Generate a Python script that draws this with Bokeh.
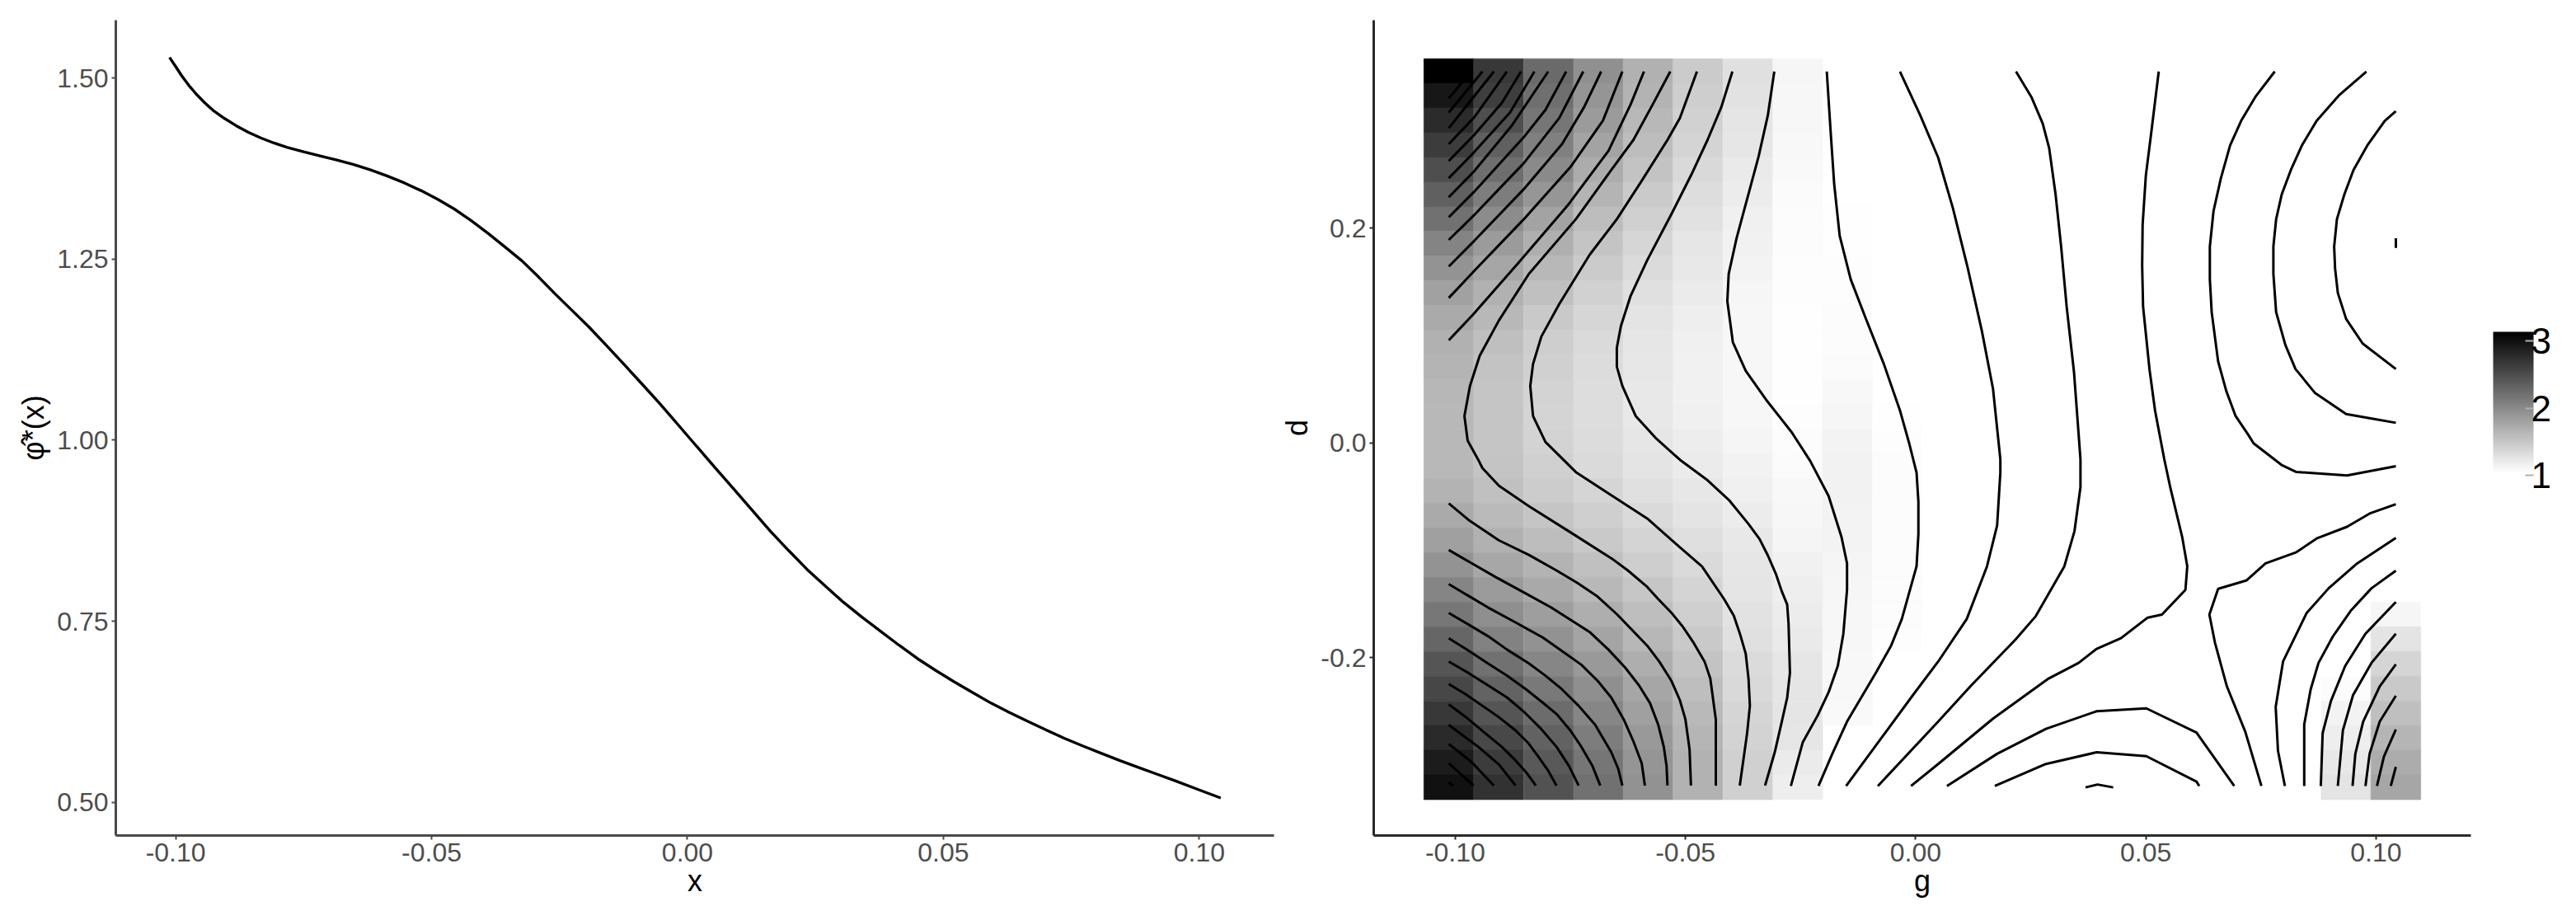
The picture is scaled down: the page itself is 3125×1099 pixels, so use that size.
from bokeh.plotting import figure
from bokeh.layouts import row
from bokeh.embed import file_html
from bokeh.resources import INLINE
from bokeh.models import (ColumnDataSource, FixedTicker, PrintfTickFormatter,
                          LinearColorMapper, ColorBar, Range1d)
from bokeh.transform import transform

# ---------- left panel ----------
curve_x = [-.1012,-.1000,-.0989,-.0975,-.0960,-.0944,-.0927,-.0905,-.0882,-.0858,-.0833,-.0808,-.0783,-.0750,-.0718,
           -.0685,-.0652,-.0619,-.0586,-.0553,-.0521,-.0488,-.0455,-.0422,-.0389,-.0356,-.0323,-.0290,-.0258,-.0225,
           -.0192,-.0159,-.0126,-.0090,-.0054,-.0018,.0018,.0054,.0090,.0126,.0162,.0198,.0234,.0270,.0305,.0341,.0377,
           .0413,.0449,.0485,.0521,.0557,.0593,.0629,.0665,.0701,.0737,.0773,.0809,.0845,.0881,.0917,.0953,.0998,.1042]
curve_y = [1.5286,1.5160,1.5040,1.4905,1.4781,1.4664,1.4555,1.4445,1.4344,1.4252,1.4172,1.4104,1.4045,1.3982,1.3926,
           1.3868,1.3807,1.3733,1.3647,1.3552,1.3448,1.3326,1.3190,1.3028,1.2852,1.2665,1.2474,1.2247,1.2016,1.1788,
           1.1559,1.1312,1.1062,1.0785,1.0505,1.0210,.9914,.9620,.9328,.9035,.8742,.8473,.8213,.7980,.7760,.7555,.7363,
           .7170,.6985,.6820,.6664,.6515,.6369,.6240,.6116,.5997,.5881,.5775,.5674,.5575,.5481,.5388,.5296,.5175,.5058]
left_x_ticks = [-0.10,-0.05,0.00,0.05,0.10]
left_y_ticks = [0.50,0.75,1.00,1.25,1.50]
right_x_ticks = [-0.10,-0.05,0.00,0.05,0.10]
right_y_ticks = [-0.2,0.0,0.2]
bar_ticks = [1,2,3]

# ---------- right panel : tile grid ----------
g_centres = [-.1014,-.0906,-.0797,-.0689,-.0581,-.0473,-.0364,-.0256,-.0148,-.0040,.0069,.0177,.0285,.0393,.0502,
             .0610,.0718,.0826,.0935,.1043]
d_centres = [.3462,.3232,.3002,.2772,.2542,.2312,.2082,.1852,.1622,.1392,.1162,.0932,.0702,.0472,.0242,.0012,
             -.0218,-.0448,-.0678,-.0908,-.1138,-.1368,-.1598,-.1828,-.2058,-.2288,-.2518,-.2748,-.2978,-.3208]
N = None
heat_00 = [3.14,2.94,2.78,2.64,2.49,2.34,2.20,2.05,1.92,1.81,1.73,1.68,1.65,1.63,1.62,1.62,1.62,1.66,1.73,1.82,1.92,2.04,2.15,2.29,2.43,2.55,2.67,2.79,2.90,2.99]
heat_01 = [2.67,2.62,2.48,2.34,2.23,2.10,1.98,1.86,1.77,1.68,1.62,1.56,1.53,1.51,1.51,1.51,1.52,1.55,1.60,1.68,1.76,1.86,1.96,2.06,2.20,2.32,2.43,2.54,2.64,2.72]
heat_02 = [2.26,2.22,2.16,2.08,2.00,1.90,1.79,1.69,1.62,1.55,1.48,1.44,1.42,1.40,1.39,1.40,1.42,1.45,1.51,1.58,1.66,1.74,1.83,1.93,2.03,2.14,2.24,2.33,2.40,2.46]
heat_03 = [1.95,1.91,1.86,1.79,1.72,1.65,1.58,1.52,1.46,1.41,1.37,1.34,1.32,1.31,1.31,1.32,1.34,1.38,1.43,1.48,1.55,1.62,1.70,1.78,1.87,1.96,2.03,2.10,2.16,2.20]
heat_04 = [1.68,1.66,1.62,1.58,1.53,1.47,1.42,1.37,1.33,1.29,1.26,1.24,1.23,1.22,1.22,1.24,1.26,1.29,1.34,1.39,1.44,1.50,1.57,1.63,1.70,1.77,1.82,1.87,1.91,1.93]
heat_05 = [1.46,1.44,1.41,1.39,1.35,1.31,1.28,1.24,1.22,1.20,1.17,1.16,1.15,1.15,1.16,1.18,1.20,1.23,1.26,1.30,1.34,1.39,1.43,1.48,1.53,1.57,1.61,1.64,1.67,1.67]
heat_06 = [1.29,1.27,1.25,1.24,1.21,1.19,1.16,1.15,1.13,1.11,1.10,1.10,1.10,1.10,1.10,1.12,1.14,1.16,1.19,1.22,1.24,1.25,1.27,1.29,1.33,1.35,1.38,1.40,1.42,1.42]
heat_07 = [1.11,1.10,1.10,1.09,1.08,1.07,1.06,1.06,1.05,1.05,1.04,1.04,1.04,1.04,1.05,1.06,1.07,1.09,1.10,1.12,1.15,1.17,1.19,1.21,1.24,1.25,1.25,1.24,1.20,1.17]
heat_08 = [N,N,N,N,N,N,1.04,1.04,1.05,1.05,1.06,1.06,1.07,1.09,1.11,1.13,1.14,1.14,1.13,1.13,1.12,1.11,1.10,1.10,1.09,1.09,1.08,N,N,N]
heat_09 = [N]*14 + [1.04,1.05,1.06,1.06,1.06,1.06,1.06,1.06,1.06,1.05] + [N]*6
heat_18 = [N]*25 + [1.06,1.13,1.17,1.22,1.26]
heat_19 = [N]*22 + [1.11,1.26,1.38,1.48,1.56,1.64,1.72,1.77]
heat_columns = {0:heat_00,1:heat_01,2:heat_02,3:heat_03,4:heat_04,5:heat_05,6:heat_06,7:heat_07,8:heat_08,9:heat_09,18:heat_18,19:heat_19}

# ---------- right panel : contour lines (g, d) ----------
ct_01 = [(-.1014,.3207),(-.0965,.3457)]
ct_02 = [(-.1014,.3075),(-.0941,.3457)]
ct_03 = [(-.1014,.2930),(-.0916,.3457)]
ct_04 = [(-.1014,.2782),(-.0959,.3029),(-.0888,.3457)]
ct_05 = [(-.1014,.2624),(-.0959,.2866),(-.0899,.3164),(-.0857,.3457)]
ct_06 = [(-.1014,.2464),(-.0959,.2706),(-.0881,.3075),(-.0828,.3457)]
ct_07 = [(-.1014,.2286),(-.0959,.2528),(-.0878,.2948),(-.0798,.3457)]
ct_08 = [(-.1014,.2100),(-.0959,.2337),(-.0851,.2846),(-.0804,.3100),(-.0759,.3457)]
ct_09 = [(-.1014,.1889),(-.0959,.2120),(-.0851,.2604),(-.0774,.3024),(-.0722,.3457)]
ct_10 = [(-.1014,.1642),(-.0959,.1879),(-.0851,.2362),(-.0768,.2782),(-.0720,.3126),(-.0683,.3457)]
ct_11 = [(-.1014,.1349),(-.0959,.1599),(-.0851,.2082),(-.0750,.2566),(-.0679,.3001),(-.0637,.3457)]
ct_12 = [(-.1014,.0954),(-.0962,.1191),(-.0863,.1675),(-.0756,.2209),(-.0667,.2719),(-.0619,.3151),(-.0590,.3457)]
ct_a = [(-.0533,.3457),(-.0571,.3151),(-.0613,.2820),(-.0661,.2540),(-.0738,.2082),(-.0840,.1573),(-.0905,.1140),
        (-.0947,.0809),(-.0968,.0529),(-.0980,.0249),(-.0973,.0020),(-.0950,-.0158),(-.0941,-.0235),(-.0905,-.0400),
        (-.0840,-.0591),(-.0750,-.0833),(-.0661,-.1075),(-.0625,-.1189),(-.0583,-.1342),(-.0559,-.1456),(-.0530,-.1584),
        (-.0506,-.1711),(-.0482,-.1864),(-.0458,-.2042),(-.0446,-.2195),(-.0434,-.2576),(-.0434,-.3192)]
ct_b = [(-.0475,.3457),(-.0512,.3024),(-.0539,.2820),(-.0595,.2439),(-.0649,.2082),(-.0708,.1751),(-.0774,.1293),
        (-.0813,.0988),(-.0831,.0733),(-.0837,.0529),(-.0831,.0249),(-.0804,.0008),(-.0738,-.0273),(-.0661,-.0489),
        (-.0583,-.0705),(-.0512,-.0973),(-.0464,-.1151),(-.0416,-.1456),(-.0395,-.1609),(-.0381,-.1787),(-.0369,-.1965),
        (-.0363,-.2195),(-.0360,-.2449),(-.0366,-.2704),(-.0382,-.3192)]
ct_c = [(-.0398,.3457),(-.0422,.3126),(-.0452,.2820),(-.0485,.2515),(-.0530,.2133),(-.0583,.1700),(-.0619,.1369),
        (-.0640,.1089),(-.0649,.0886),(-.0649,.0708),(-.0637,.0529),(-.0608,.0249),(-.0565,.0046),(-.0512,-.0158),
        (-.0452,-.0349),(-.0404,-.0540),(-.0363,-.0756),(-.0339,-.0896),(-.0321,-.1049),(-.0303,-.1227),(-.0291,-.1380),
        (-.0279,-.1507),(-.0276,-.1685),(-.0273,-.2144),(-.0279,-.2373),(-.0291,-.2602),(-.0306,-.2882),(-.0327,-.3192)]
ct_d = [(-.0307,.3457),(-.0321,.3049),(-.0341,.2668),(-.0365,.2286),(-.0389,.1904),(-.0406,.1573),(-.0409,.1318),
        (-.0397,.0937),(-.0369,.0669),(-.0325,.0402),(-.0269,.0097),(-.0229,-.0169),(-.0189,-.0496),(-.0161,-.0878),
        (-.0149,-.1123),(-.0149,-.1369),(-.0157,-.1778),(-.0169,-.2078),(-.0189,-.2323),(-.0213,-.2541),(-.0245,-.2787),(-.0271,-.3196)]
ct_e = [(-.0193,.3457),(-.0185,.2922),(-.0177,.2413),(-.0165,.1929),(-.0141,.1522),(-.0109,.1166),(-.0069,.0733),
        (-.0034,.0300),(-.0014,-.0005),(.0002,-.0278),(.0006,-.0550),(.0006,-.0850),(.0002,-.1150),(-.0030,-.1641),
        (-.0053,-.1887),(-.0085,-.2132),(-.0117,-.2364),(-.0149,-.2596),(-.0181,-.2896),(-.0211,-.3196)]
ct_m1 = [(-.0034,.3457),(.0010,.3049),(.0049,.2655),(.0081,.2184),(.0112,.1649),(.0144,.1038),(.0168,.0504),(.0184,-.0153),
         (.0184,-.0278),(.0177,-.0769),(.0155,-.1150),(.0111,-.1641),(.0049,-.2037),(-.0006,-.2350),(-.0062,-.2677),(-.0151,-.3196)]
ct_m2 = [(.0218,.3457),(.0252,.3215),(.0276,.2973),(.0290,.2744),(.0304,.2311),(.0316,.1827),(.0328,.1268),(.0344,.0657),
         (.0358,-.0153),(.0358,-.0414),(.0345,-.0823),(.0323,-.1150),(.0261,-.1614),(.0217,-.1832),(.0119,-.2268),(.0049,-.2596),
         (-.0082,-.3196)]
ct_m3 = [(.0528,.3457),(.0512,.2897),(.0500,.2489),(.0493,.2031),(.0492,.1649),(.0494,.1268),(.0508,.0682),(.0520,.0300),
         (.0540,-.0153),(.0553,-.0414),(.0579,-.0878),(.0590,-.1150),(.0586,-.1369),(.0535,-.1600),(.0504,-.1628),(.0446,-.1819),
         (.0393,-.1919),(.0354,-.2050),(.0287,-.2200),(.0168,-.2569),(.0049,-.2991),(-.0010,-.3196)]
ct_m4 = [(.0780,.3457),(.0739,.3228),(.0707,.2998),(.0683,.2769),(.0663,.2464),(.0647,.2158),(.0639,.1827),(.0639,.1522),
         (.0643,.1216),(.0657,.0758),(.0675,.0478),(.0695,.0249),(.0723,.0071),(.0734,-.0005),(.0796,-.0210),(.0827,-.0272),
         (.0937,-.0305),(.1043,-.0218)]
ct_m5 = [(.0979,.3457),(.0919,.3233),(.0871,.2998),(.0839,.2769),(.0815,.2540),(.0795,.2311),(.0783,.2082),(.0777,.1827),
         (.0777,.1573),(.0783,.1216),(.0803,.0911),(.0825,.0687),(.0867,.0466),(.0935,.0267),(.1043,.0186)]
ct_m6 = [(.1043,.3088),(.1019,.2998),(.0981,.2769),(.0951,.2540),(.0931,.2311),(.0915,.2082),(.0909,.1827),(.0911,.1624),
         (.0917,.1395),(.0935,.1153),(.0971,.0924),(.1043,.0687)]
ct_m7 = [(.1043,.1904),(.1043,.1815)]
ct_n1 = [(.1043,-.0572),(.0986,-.0659),(.0937,-.0782),(.0871,-.0891),(.0827,-.1019),(.0760,-.1123),(.0719,-.1281),(.0657,-.1360),
         (.0638,-.1600),(.0650,-.1859),(.0676,-.2268),(.0716,-.2691),(.0751,-.3196)]
ct_n2 = [(.1043,-.0886),(.0959,-.1123),(.0897,-.1355),(.0849,-.1587),(.0798,-.2037),(.0782,-.2459),(.0787,-.2868),(.0802,-.3196)]
ct_n3 = [(.1043,-.1191),(.0990,-.1355),(.0946,-.1559),(.0906,-.1805),(.0875,-.2050),(.0858,-.2296),(.0844,-.2623),(.0844,-.3196)]
ct_n4 = [(.1043,-.1483),(.0977,-.1778),(.0933,-.2078),(.0902,-.2405),(.0884,-.2705),(.0880,-.3196)]
ct_n5 = [(.1043,-.1778),(.0990,-.2050),(.0950,-.2350),(.0928,-.2677),(.0917,-.3196)]
ct_n6 = [(.1043,-.2064),(.1008,-.2268),(.0972,-.2596),(.0955,-.2896),(.0949,-.3196)]
ct_n7 = [(.1043,-.2356),(.1008,-.2596),(.0986,-.2896),(.0977,-.3196)]
ct_n8 = [(.1043,-.2669),(.1017,-.2923),(.1002,-.3196)]
ct_n9 = [(.1043,-.3018),(.1032,-.3196)]
ct_p1 = [(.0068,-.3196),(.0177,-.2896),(.0283,-.2664),(.0393,-.2500),(.0501,-.2473),(.0610,-.2699),(.0692,-.3196)]
ct_p2 = [(.0172,-.3196),(.0283,-.2991),(.0393,-.2882),(.0501,-.2918),(.0610,-.3155),(.0616,-.3196)]
ct_p3 = [(.0369,-.3209),(.0395,-.3182),(.0429,-.3209)]
ct_s1 = [(-.1014,-.3162),(-.1005,-.3192)]
ct_s2 = [(-.1014,-.2984),(-.0960,-.3192)]
ct_s3 = [(-.1014,-.2805),(-.0965,-.2971),(-.0916,-.3192)]
ct_s4 = [(-.1014,-.2627),(-.0950,-.2831),(-.0905,-.2996),(-.0869,-.3192)]
ct_s5 = [(-.1014,-.2436),(-.0974,-.2564),(-.0935,-.2704),(-.0899,-.2831),(-.0869,-.2958),(-.0845,-.3073),(-.0825,-.3192)]
ct_s6 = [(-.1014,-.2246),(-.0977,-.2342),(-.0941,-.2449),(-.0905,-.2556),(-.0869,-.2678),(-.0842,-.2793),(-.0822,-.2907),(-.0799,-.3047),(-.0780,-.3192)]
ct_s7 = [(-.1014,-.2037),(-.0971,-.2144),(-.0929,-.2258),(-.0887,-.2373),(-.0852,-.2500),(-.0813,-.2666),(-.0780,-.2831),(-.0753,-.3009),(-.0732,-.3192)]
ct_s8 = [(-.1014,-.1820),(-.0971,-.1935),(-.0929,-.2055),(-.0887,-.2169),(-.0846,-.2296),(-.0810,-.2419),(-.0780,-.2525),(-.0750,-.2678),(-.0726,-.2831),(-.0702,-.3009),(-.0685,-.3192)]
ct_s9 = [(-.1014,-.1584),(-.0971,-.1693),(-.0929,-.1800),(-.0887,-.1927),(-.0840,-.2055),(-.0804,-.2169),(-.0768,-.2296),(-.0732,-.2449),(-.0696,-.2627),(-.0661,-.2882),(-.0646,-.3035),(-.0637,-.3192)]
ct_s10 = [(-.1014,-.1316),(-.0971,-.1426),(-.0929,-.1533),(-.0869,-.1673),(-.0810,-.1813),(-.0768,-.1940),(-.0726,-.2067),(-.0690,-.2220),(-.0661,-.2373),(-.0634,-.2576),(-.0613,-.2780),(-.0595,-.2984),(-.0588,-.3192)]
ct_s11 = [(-.1014,-.0998),(-.0965,-.1120),(-.0911,-.1253),(-.0851,-.1393),(-.0792,-.1533),(-.0708,-.1762),(-.0667,-.1927),(-.0631,-.2093),(-.0601,-.2258),(-.0577,-.2424),(-.0559,-.2627),(-.0547,-.2831),(-.0541,-.3009),(-.0539,-.3192)]
ct_s12 = [(-.1014,-.0565),(-.0971,-.0718),(-.0905,-.0909),(-.0840,-.1044),(-.0780,-.1189),(-.0735,-.1304),(-.0691,-.1431),(-.0649,-.1596),(-.0583,-.1889),(-.0556,-.2042),(-.0530,-.2220),(-.0512,-.2398),(-.0500,-.2576),(-.0491,-.2856),(-.0488,-.3192)]

contours = [ct_01,ct_02,ct_03,ct_04,ct_05,ct_06,ct_07,ct_08,ct_09,ct_10,ct_11,ct_12,ct_a,ct_b,ct_c,ct_d,ct_e,
            ct_m1,ct_m2,ct_m3,ct_m4,ct_m5,ct_m6,ct_m7,ct_n1,ct_n2,ct_n3,ct_n4,ct_n5,ct_n6,ct_n7,ct_n8,ct_n9,
            ct_p1,ct_p2,ct_p3,ct_s1,ct_s2,ct_s3,ct_s4,ct_s5,ct_s6,ct_s7,ct_s8,ct_s9,ct_s10,ct_s11,ct_s12]

FONT = "Liberation Sans"

def style(p, ax_color, xfmt, yfmt, xticks, yticks, xlabel, ylabel, ystand, xstand):
    p.grid.visible = False
    p.outline_line_color = None
    p.background_fill_color = "white"
    p.border_fill_color = "white"
    for ax in (p.xaxis[0], p.yaxis[0]):
        ax.axis_line_color = ax_color
        ax.axis_line_width = 3
        ax.major_tick_line_color = ax_color
        ax.major_tick_line_width = 2
        ax.major_tick_out = 5
        ax.major_tick_in = 0
        ax.minor_tick_line_color = None
        ax.major_label_text_font = FONT
        ax.major_label_text_font_size = "32px"
        ax.major_label_text_color = "#4d4d4d"
        ax.major_label_standoff = 4
        ax.axis_label_text_font = FONT
        ax.axis_label_text_font_size = "36px"
        ax.axis_label_text_font_style = "normal"
        ax.axis_label_text_color = "black"
    p.xaxis[0].ticker = FixedTicker(ticks=xticks)
    p.yaxis[0].ticker = FixedTicker(ticks=yticks)
    p.xaxis[0].formatter = PrintfTickFormatter(format=xfmt)
    p.yaxis[0].formatter = PrintfTickFormatter(format=yfmt)
    p.xaxis[0].axis_label = xlabel
    p.yaxis[0].axis_label = ylabel
    p.xaxis[0].axis_label_standoff = xstand
    p.yaxis[0].axis_label_standoff = ystand

# left figure
p1 = figure(width=1550, height=1091, output_backend="svg", toolbar_location=None,
            x_range=Range1d(-0.1117, 0.1146), y_range=Range1d(0.454, 1.58),
            min_border_left=140, min_border_right=5, min_border_top=24, min_border_bottom=74)
style(p1, "#4a4a4a", "%.2f", "%.2f", left_x_ticks, left_y_ticks, "x", "\u03c6\u0302*(x)", 5, 0)
p1.line(curve_x, curve_y, line_color="black", line_width=3.4)

# right figure
p2 = figure(width=1567, height=1091, output_backend="svg", toolbar_location=None,
            x_range=Range1d(-0.1177, 0.1206), y_range=Range1d(-0.3657, 0.3935),
            min_border_left=115, min_border_right=120, min_border_top=24, min_border_bottom=73)
style(p2, "#2a2a2a", "%.2f", "%.1f", right_x_ticks, right_y_ticks, "g", "d", 5, 0)

gray_palette = ["#%02x%02x%02x" % (v, v, v) for v in range(255, -1, -1)]
mapper = LinearColorMapper(palette=gray_palette, low=1.03, high=3.137)
bar_mapper = LinearColorMapper(palette=["#ffffff"] * 4 + gray_palette, low=1.0, high=3.137)

cx, cy, cz = [], [], []
for j, col in heat_columns.items():
    for k, z in enumerate(col):
        if z is not None:
            cx.append(g_centres[j]); cy.append(d_centres[k]); cz.append(z)
src = ColumnDataSource(dict(g=cx, d=cy, z=cz))
p2.rect("g", "d", width=0.01083, height=0.0230, source=src,
        fill_color=transform("z", mapper), line_color=transform("z", mapper), line_width=0.6)

p2.multi_line([[pt[0] for pt in c] for c in contours], [[pt[1] for pt in c] for c in contours],
              line_color="black", line_width=3)

bar = ColorBar(color_mapper=bar_mapper, ticker=FixedTicker(ticks=bar_ticks),
               formatter=PrintfTickFormatter(format="%d"),
               location=(1358, 437), width=49, height=174, padding=0, margin=0,
               major_label_text_font=FONT, major_label_text_font_size="44px",
               major_label_text_color="black", label_standoff=-3,
               major_tick_line_color="#b0b0b0", major_tick_line_width=2, major_tick_in=10,
               minor_tick_line_color=None, bar_line_color=None,
               background_fill_color=None, border_line_color=None)
p2.add_layout(bar, "center")

layout = row(p1, p2, spacing=0)
open("out.html", "w").write(file_html(layout, INLINE))
